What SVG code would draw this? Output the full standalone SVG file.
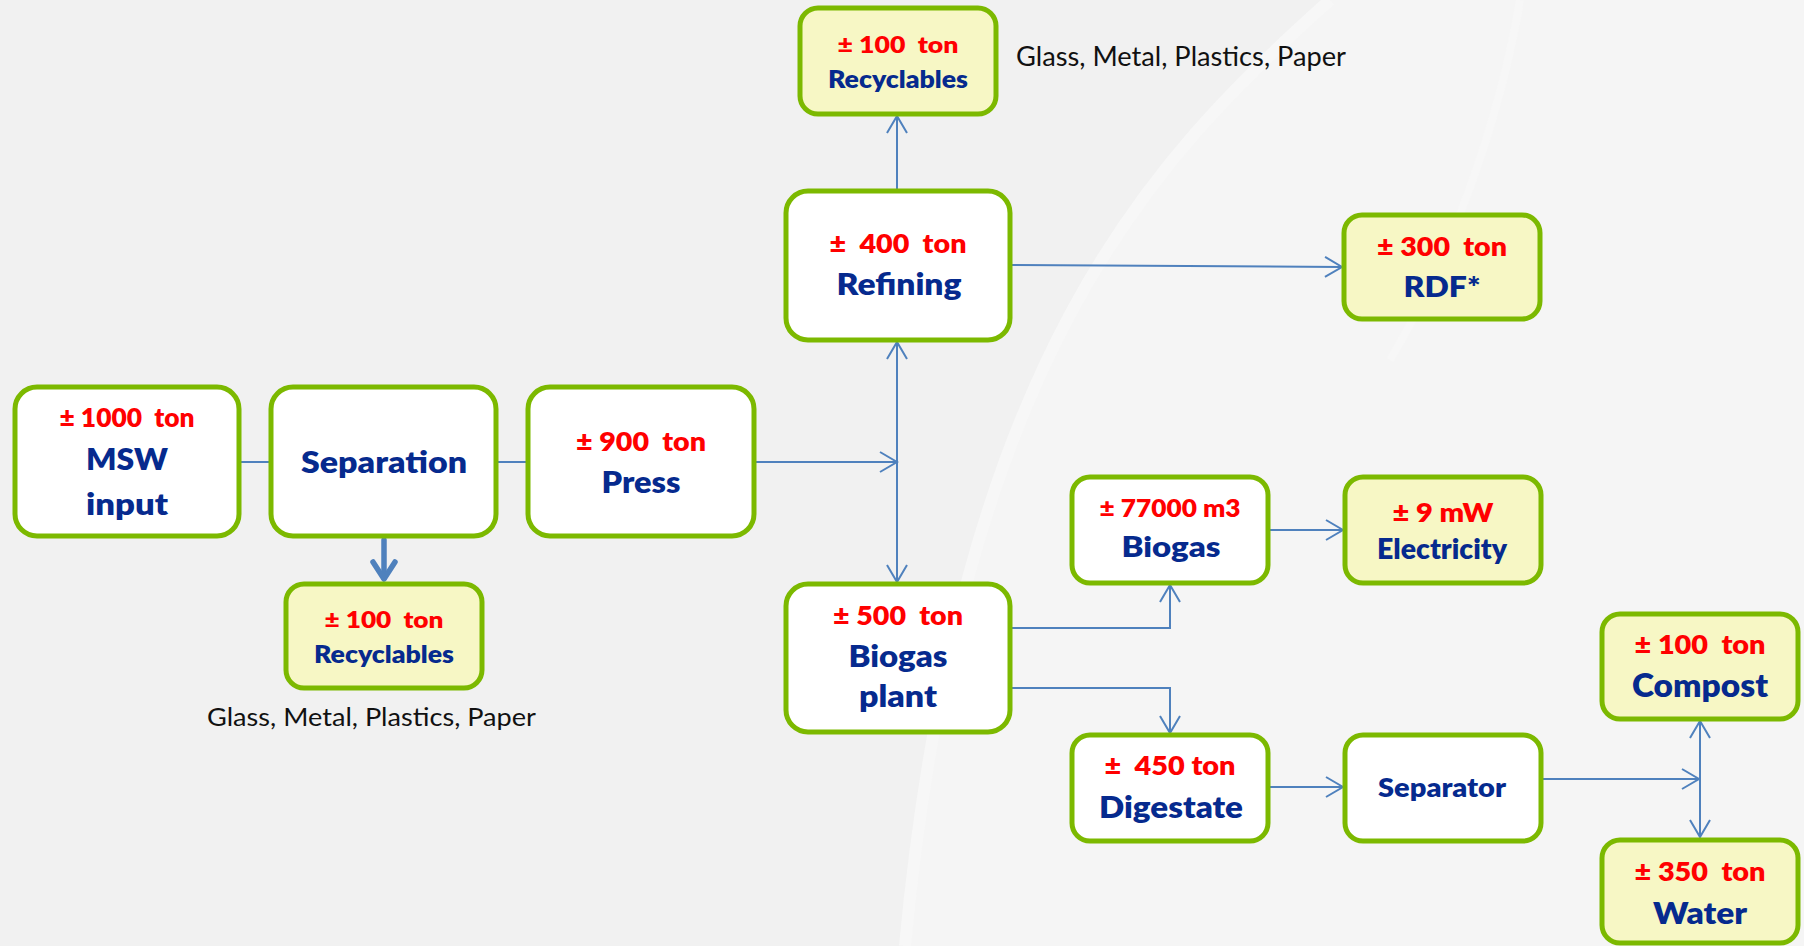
<svg xmlns="http://www.w3.org/2000/svg" width="1804" height="946" viewBox="0 0 1804 946">
<defs>
<style>
text { white-space: pre; font-family: Lato, "Open Sans", "Liberation Sans", sans-serif; text-anchor: middle; }
.box { stroke: #7cb900; stroke-width: 5; }
.w { fill: #ffffff; }
.y { fill: #f7f7c5; }
.r { fill: #ff0000; font-weight: 800; }
.b { fill: #062a8e; font-weight: 800; }
.k { fill: #111111; text-anchor: start; font-weight: normal; }
.c { fill: none; stroke: #4f81bd; stroke-width: 2; }
</style>
<marker id="ah" markerUnits="userSpaceOnUse" markerWidth="26" markerHeight="26" viewBox="-22 -13 26 26" refX="0" refY="0" orient="auto-start-reverse">
<path d="M -17 -10 L 0 0 L -17 10" fill="none" stroke="#4f81bd" stroke-width="2"/>
</marker>
</defs>
<g id="background">
<rect x="0" y="0" width="1804" height="946" fill="#f1f1f1"/>
<path d="M 1330 0 C 1150 160 960 360 905 946 L 1804 946 L 1804 0 Z" fill="#f5f5f5"/>
<path d="M 1330 0 C 1150 160 960 360 905 946" fill="none" stroke="#f7f7f7" stroke-width="12"/>
<path d="M 1520 0 C 1500 120 1450 260 1390 360" fill="none" stroke="#f7f7f7" stroke-width="8"/>
</g>
<g id="connectors">
<line class="c" x1="239" y1="462" x2="271" y2="462"/>
<line class="c" x1="496" y1="462" x2="528" y2="462"/>
<line class="c" x1="754" y1="462" x2="897" y2="462" marker-end="url(#ah)"/>
<line class="c" x1="897" y1="342" x2="897" y2="582" marker-start="url(#ah)" marker-end="url(#ah)"/>
<line class="c" x1="897" y1="191" x2="897" y2="116" marker-end="url(#ah)"/>
<line class="c" x1="1012" y1="265" x2="1342" y2="267" marker-end="url(#ah)"/>
<polyline class="c" points="1012,628 1170,628 1170,585" marker-end="url(#ah)"/>
<polyline class="c" points="1012,688 1170,688 1170,733" marker-end="url(#ah)"/>
<line class="c" x1="1270" y1="530" x2="1343" y2="530" marker-end="url(#ah)"/>
<line class="c" x1="1270" y1="787" x2="1343" y2="787" marker-end="url(#ah)"/>
<line class="c" x1="1543" y1="779" x2="1699" y2="779" marker-end="url(#ah)"/>
<line class="c" x1="1700" y1="721" x2="1700" y2="837" marker-start="url(#ah)" marker-end="url(#ah)"/>
<g id="thick-arrow" stroke="#4f81bd" stroke-width="5.5" fill="none" stroke-linecap="round" stroke-linejoin="round">
<line x1="384" y1="540" x2="384" y2="578"/>
<polyline points="373,562 384,579 395,562"/>
</g>
</g>
<g id="msw">
<rect class="box w" x="15" y="387" width="224" height="149" rx="22"/>
<text class="r" x="127" y="427" font-size="26" textLength="135" lengthAdjust="spacingAndGlyphs">± 1000  ton</text>
<text class="b" x="127" y="470" font-size="31" textLength="82" lengthAdjust="spacingAndGlyphs">MSW</text>
<text class="b" x="127" y="515" font-size="31" textLength="82" lengthAdjust="spacingAndGlyphs">input</text>
</g>
<g id="separation">
<rect class="box w" x="271" y="387" width="225" height="149" rx="22"/>
<text class="b" x="384" y="473" font-size="30" textLength="166" lengthAdjust="spacingAndGlyphs">Separation</text>
</g>
<g id="press">
<rect class="box w" x="528" y="387" width="226" height="149" rx="22"/>
<text class="r" x="641" y="451" font-size="27" textLength="130" lengthAdjust="spacingAndGlyphs">± 900  ton</text>
<text class="b" x="641" y="493" font-size="30" textLength="79" lengthAdjust="spacingAndGlyphs">Press</text>
</g>
<g id="refining">
<rect class="box w" x="786" y="191" width="224" height="149" rx="22"/>
<text class="r" x="898" y="253" font-size="26" textLength="137" lengthAdjust="spacingAndGlyphs">±  400  ton</text>
<text class="b" x="899" y="295" font-size="31" textLength="125" lengthAdjust="spacingAndGlyphs">Refining</text>
</g>
<g id="recyclables-top">
<rect class="box y" x="800" y="8" width="196" height="106" rx="18"/>
<text class="r" x="898" y="53" font-size="23" textLength="121" lengthAdjust="spacingAndGlyphs">± 100  ton</text>
<text class="b" x="898" y="88" font-size="25" textLength="140" lengthAdjust="spacingAndGlyphs">Recyclables</text>
</g>
<text class="k" x="1016" y="66" font-size="26" textLength="330" lengthAdjust="spacingAndGlyphs">Glass, Metal, Plastics, Paper</text>
<g id="rdf">
<rect class="box y" x="1344" y="215" width="196" height="104" rx="18"/>
<text class="r" x="1442" y="256" font-size="27" textLength="130" lengthAdjust="spacingAndGlyphs">± 300  ton</text>
<text class="b" x="1442" y="297" font-size="28" textLength="77" lengthAdjust="spacingAndGlyphs">RDF*</text>
</g>
<g id="biogas-plant">
<rect class="box w" x="786" y="584" width="224" height="148" rx="22"/>
<text class="r" x="898" y="625" font-size="26" textLength="130" lengthAdjust="spacingAndGlyphs">± 500  ton</text>
<text class="b" x="898" y="667" font-size="31" textLength="99" lengthAdjust="spacingAndGlyphs">Biogas</text>
<text class="b" x="898" y="707" font-size="31" textLength="78" lengthAdjust="spacingAndGlyphs">plant</text>
</g>
<g id="recyclables-bottom">
<rect class="box y" x="286" y="584" width="196" height="104" rx="18"/>
<text class="r" x="384" y="628" font-size="23" textLength="119" lengthAdjust="spacingAndGlyphs">± 100  ton</text>
<text class="b" x="384" y="663" font-size="25" textLength="140" lengthAdjust="spacingAndGlyphs">Recyclables</text>
</g>
<text class="k" x="207" y="726" font-size="25" textLength="329" lengthAdjust="spacingAndGlyphs">Glass, Metal, Plastics, Paper</text>
<g id="biogas">
<rect class="box w" x="1072" y="477" width="196" height="106" rx="18"/>
<text class="r" x="1170" y="517" font-size="25" textLength="141" lengthAdjust="spacingAndGlyphs">± 77000 m3</text>
<text class="b" x="1171" y="557" font-size="29" textLength="99" lengthAdjust="spacingAndGlyphs">Biogas</text>
</g>
<g id="electricity">
<rect class="box y" x="1345" y="477" width="196" height="106" rx="18"/>
<text class="r" x="1443" y="522" font-size="27" textLength="101" lengthAdjust="spacingAndGlyphs">± 9 mW</text>
<text class="b" x="1442" y="559" font-size="28" textLength="130" lengthAdjust="spacingAndGlyphs">Electricity</text>
</g>
<g id="digestate">
<rect class="box w" x="1072" y="735" width="196" height="106" rx="18"/>
<text class="r" x="1170" y="775" font-size="26" textLength="131" lengthAdjust="spacingAndGlyphs">±  450 ton</text>
<text class="b" x="1171" y="818" font-size="31" textLength="144" lengthAdjust="spacingAndGlyphs">Digestate</text>
</g>
<g id="separator">
<rect class="box w" x="1345" y="735" width="196" height="106" rx="18"/>
<text class="b" x="1442" y="797" font-size="27" textLength="128" lengthAdjust="spacingAndGlyphs">Separator</text>
</g>
<g id="compost">
<rect class="box y" x="1602" y="614" width="196" height="105" rx="18"/>
<text class="r" x="1700" y="654" font-size="26" textLength="131" lengthAdjust="spacingAndGlyphs">± 100  ton</text>
<text class="b" x="1700" y="697" font-size="32" textLength="136" lengthAdjust="spacingAndGlyphs">Compost</text>
</g>
<g id="water">
<rect class="box y" x="1602" y="840" width="196" height="103" rx="18"/>
<text class="r" x="1700" y="881" font-size="26" textLength="131" lengthAdjust="spacingAndGlyphs">± 350  ton</text>
<text class="b" x="1700" y="924" font-size="31" textLength="94" lengthAdjust="spacingAndGlyphs">Water</text>
</g>
</svg>
